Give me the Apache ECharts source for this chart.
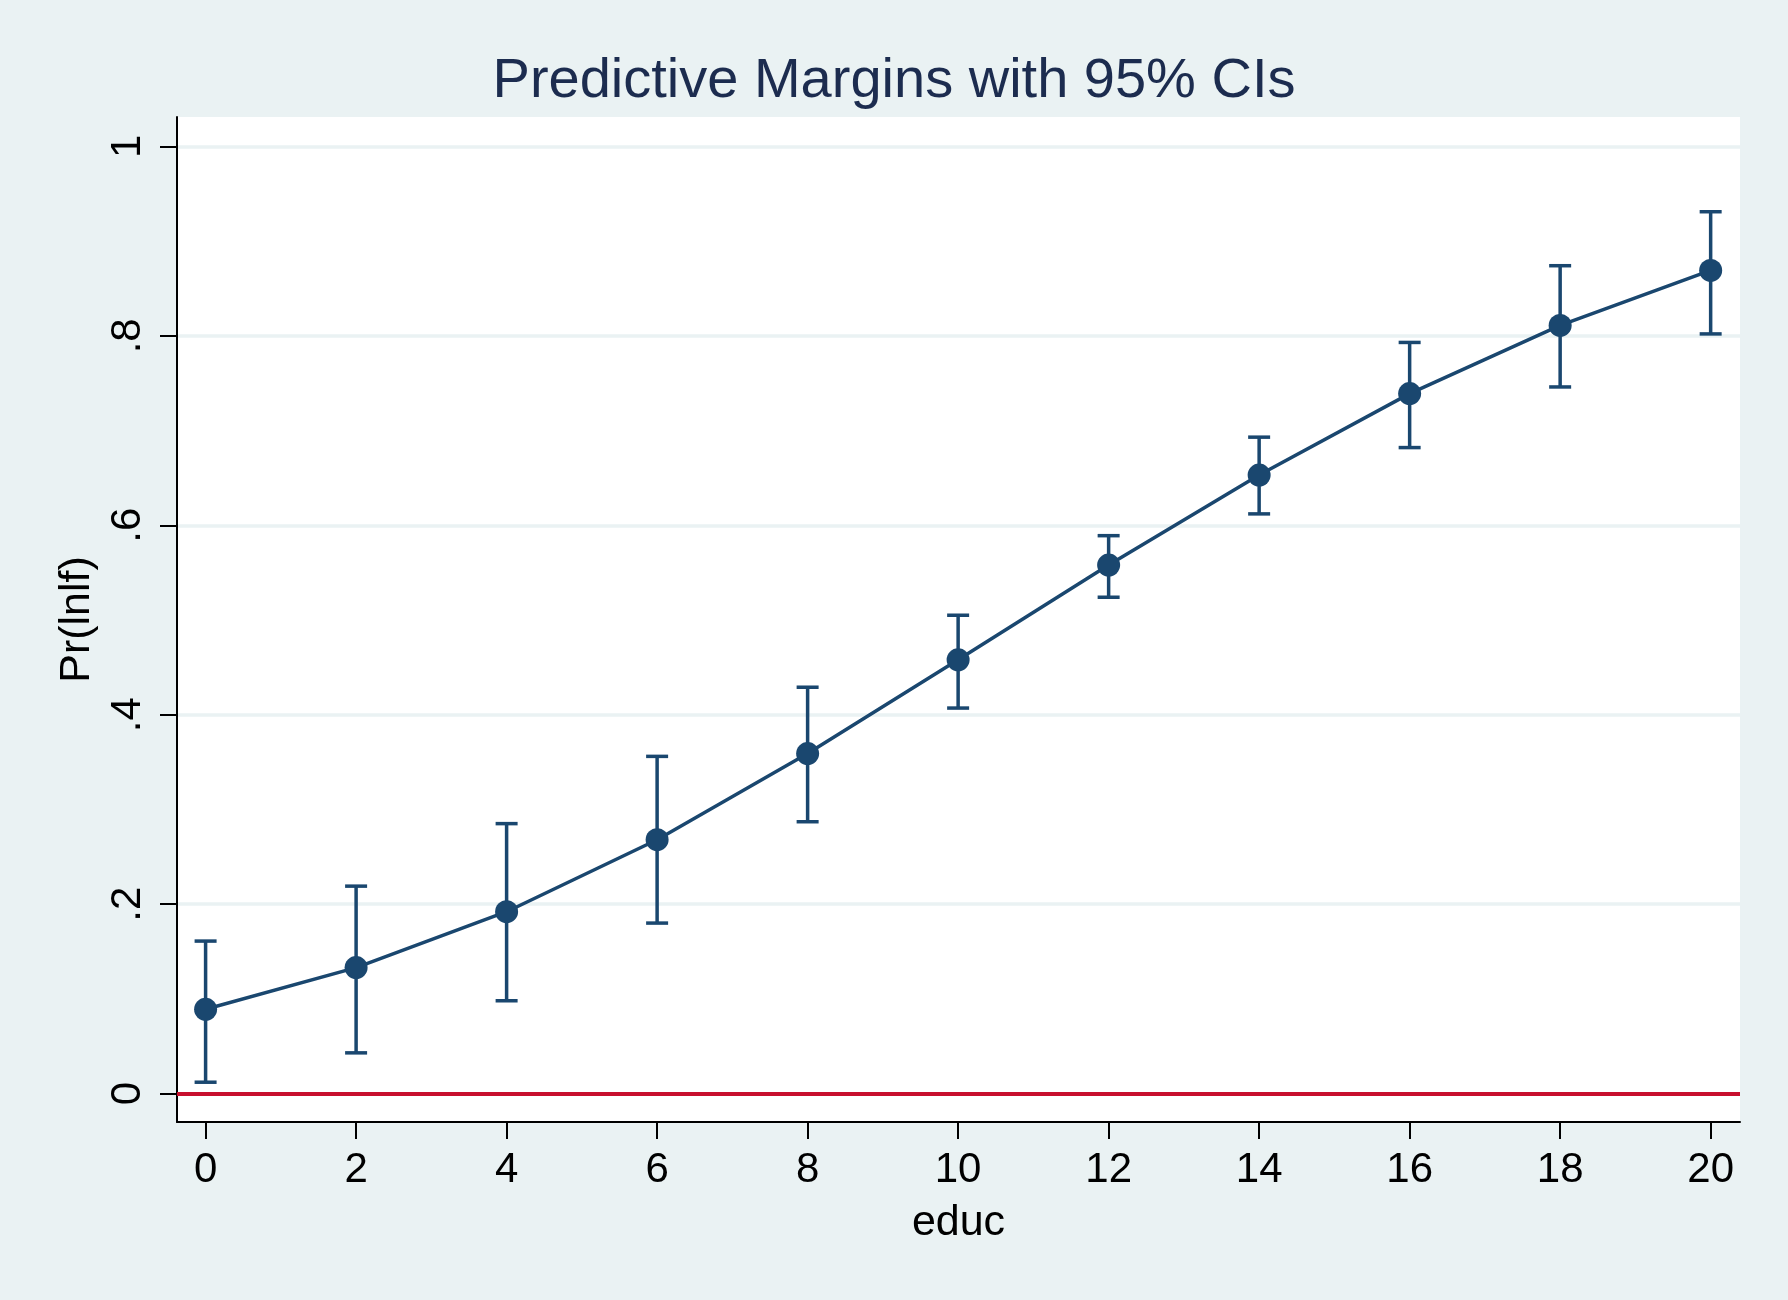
<!DOCTYPE html>
<html>
<head>
<meta charset="utf-8">
<script src="https://cdn.jsdelivr.net/npm/echarts@6/dist/echarts.min.js"></script>
<style>
  html, body { margin: 0; padding: 0; background: #eaf2f3; }
  #chart { width: 1788px; height: 1300px; }
</style>
</head>
<body>
<div id="chart"></div>
<script>
var chart = echarts.init(document.getElementById("chart"));

// predictive margins of Pr(lnlf) by educ, with 95% CIs
var educ = [0, 2, 4, 6, 8, 10, 12, 14, 16, 18, 20];
var margin = [0.089, 0.133, 0.192, 0.268, 0.359, 0.458, 0.558, 0.653, 0.739, 0.811, 0.869];
var lower = [0.012, 0.043, 0.098, 0.180, 0.287, 0.407, 0.524, 0.612, 0.682, 0.746, 0.802];
var upper = [0.161, 0.219, 0.285, 0.356, 0.429, 0.505, 0.589, 0.693, 0.793, 0.874, 0.931];

var xTicks = [0, 2, 4, 6, 8, 10, 12, 14, 16, 18, 20];
var yTicks = [0, 0.2, 0.4, 0.6, 0.8, 1];
var yTickLabels = ["0", ".2", ".4", ".6", ".8", "1"];

var navy = "#1a476f";
var font = "Liberation Sans, Arial, Helvetica, sans-serif";

var ciData = [];
var pointData = [];
for (var i = 0; i < educ.length; i++) {
  ciData.push([educ[i], lower[i], upper[i]]);
  pointData.push([educ[i], margin[i]]);
}

function renderCap(params, api) {
  var x = api.value(0);
  var top = api.coord([x, api.value(2)]);
  var bot = api.coord([x, api.value(1)]);
  var w = 11;
  var style = { stroke: navy, lineWidth: 3.5 };
  return {
    type: "group",
    children: [
      { type: "line", shape: { x1: top[0], y1: top[1], x2: bot[0], y2: bot[1] }, style: style },
      { type: "line", shape: { x1: top[0] - w, y1: top[1], x2: top[0] + w, y2: top[1] }, style: style },
      { type: "line", shape: { x1: bot[0] - w, y1: bot[1], x2: bot[0] + w, y2: bot[1] }, style: style },
    ],
  };
}

var option = {
  backgroundColor: "#eaf2f3",
  animation: false,
  textStyle: { fontFamily: font },
  title: {
    text: "Predictive Margins with 95% CIs",
    left: "center",
    top: 54,
    padding: 0,
    textStyle: { fontSize: 56, fontWeight: "normal", color: "#1c2c4f", fontFamily: font },
  },
  grid: {
    left: 177,
    right: 48,
    top: 117,
    bottom: 178,
    show: true,
    backgroundColor: "#ffffff",
    borderWidth: 0,
  },
  xAxis: {
    type: "value",
    min: -0.38,
    max: 20.39,
    name: "educ",
    nameLocation: "middle",
    nameGap: 80,
    nameTextStyle: { fontSize: 43, color: "#000" },
    axisLine: { show: true, onZero: false, lineStyle: { color: "#000", width: 2 } },
    axisTick: { show: true, length: 17, customValues: xTicks, lineStyle: { color: "#000", width: 2 } },
    axisLabel: { customValues: xTicks, fontSize: 42, color: "#000", margin: 27 },
    splitLine: { show: false },
  },
  yAxis: {
    type: "value",
    min: -0.03,
    max: 1.031,
    name: "Pr(lnlf)",
    nameLocation: "middle",
    nameGap: 78,
    nameTextStyle: { fontSize: 43, color: "#000" },
    axisLine: { show: true, onZero: false, lineStyle: { color: "#000", width: 2 } },
    axisTick: { show: true, length: 17, customValues: yTicks, lineStyle: { color: "#000", width: 2 } },
    axisLabel: {
      customValues: yTicks,
      rotate: 90,
      fontSize: 42,
      color: "#000",
      margin: 28,
      formatter: function (v) {
        for (var k = 0; k < yTicks.length; k++) {
          if (Math.abs(yTicks[k] - v) < 1e-6) return yTickLabels[k];
        }
        return "";
      },
    },
    splitLine: { show: true, lineStyle: { color: "#eaf2f3", width: 3.5 } },
  },
  series: [
    {
      name: "CI",
      type: "custom",
      renderItem: renderCap,
      data: ciData,
      encode: { x: 0, y: [1, 2] },
      z: 2,
    },
    {
      name: "margin",
      type: "line",
      data: pointData,
      symbol: "circle",
      symbolSize: 23,
      lineStyle: { color: navy, width: 3.5 },
      itemStyle: { color: navy },
      z: 3,
      markLine: {
        silent: true,
        symbol: ["none", "none"],
        label: { show: false },
        lineStyle: { color: "#c8102e", width: 4, type: "solid" },
        data: [{ yAxis: 0 }],
      },
    },
  ],
};
chart.setOption(option);
</script>
</body>
</html>
